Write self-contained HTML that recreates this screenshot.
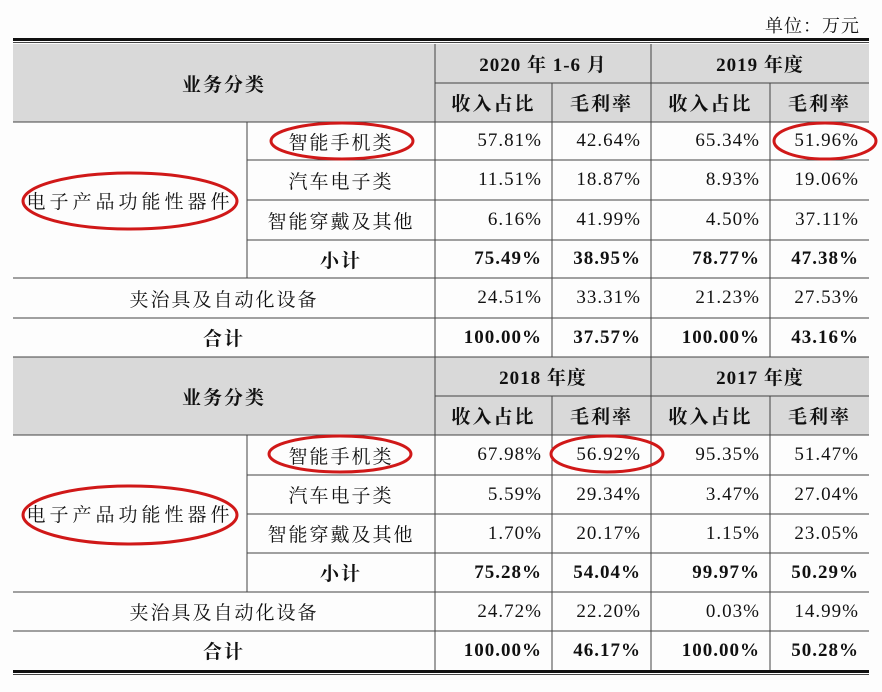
<!DOCTYPE html>
<html><head><meta charset="utf-8"><style>
body{margin:0;width:882px;height:692px;background:#fdfdfd;position:relative;overflow:hidden;font-family:"Liberation Serif","Noto Serif CJK SC",serif;color:#111}
.c{position:absolute;display:flex;align-items:center;justify-content:center;font-size:19px;letter-spacing:2px;box-sizing:border-box;white-space:nowrap}
.r{justify-content:flex-end;padding-right:10px;letter-spacing:1px}
.b{font-weight:bold}
.w{letter-spacing:4px}
.g{position:absolute;background:#d9d9d9}
.h{position:absolute;height:1px;background:#444}
</style></head><body>
<div style="position:absolute;right:22px;top:12px;font-size:18px;letter-spacing:1px">单位：万元</div>
<div class="g" style="left:13px;top:44px;width:856px;height:78px"></div>
<div class="g" style="left:13px;top:357px;width:856px;height:78px"></div>
<div class="h" style="left:13px;top:38px;width:856px;height:3px;background:#111"></div>
<div class="h" style="left:13px;top:42px;width:856px"></div>
<div class="h" style="left:13px;top:670px;width:856px;height:3px;background:#111"></div>
<div class="h" style="left:13px;top:674px;width:856px"></div>
<svg style="position:absolute;left:0;top:0" width="882" height="692">
<g stroke="#444" stroke-width="1" fill="none">
<path d="M435 83H869M13 122H869M247 160H869M247 200H869M247 240H869M13 278H869M13 318H869M13 357H869"/>
<path d="M435 396H869M13 435H869M247 475H869M247 514H869M247 553H869M13 592H869M13 631H869"/>
<path d="M247 122V278M435 44V357M552 83V357M651 44V357M770 83V357"/>
<path d="M247 435V592M435 357V670M552 396V670M651 357V670M770 396V670"/>
</g>
<g stroke="#d01818" stroke-width="3" fill="none">
<ellipse cx="342" cy="141" rx="71" ry="18"/>
<ellipse cx="130" cy="201" rx="107" ry="28"/>
<ellipse cx="825" cy="141" rx="51" ry="18"/>
<ellipse cx="340" cy="454" rx="71" ry="18"/>
<ellipse cx="130" cy="515" rx="107" ry="29"/>
<ellipse cx="607" cy="454" rx="56" ry="18"/>
</g></svg>
<div class="c b" style="left:13px;top:44px;width:422px;height:78px">业务分类</div>
<div class="c b" style="left:435px;top:44px;width:216px;height:39px;letter-spacing:1px">2020 年 1-6 月</div>
<div class="c b" style="left:651px;top:44px;width:218px;height:39px;letter-spacing:1px">2019 年度</div>
<div class="c b" style="left:435px;top:83px;width:117px;height:39px">收入占比</div>
<div class="c b" style="left:552px;top:83px;width:99px;height:39px">毛利率</div>
<div class="c b" style="left:651px;top:83px;width:119px;height:39px">收入占比</div>
<div class="c b" style="left:770px;top:83px;width:99px;height:39px">毛利率</div>
<div class="c w" style="left:13px;top:122px;width:234px;height:156px">电子产品功能性器件</div>
<div class="c" style="left:247px;top:122px;width:188px;height:38px">智能手机类</div>
<div class="c" style="left:247px;top:160px;width:188px;height:40px">汽车电子类</div>
<div class="c" style="left:247px;top:200px;width:188px;height:40px">智能穿戴及其他</div>
<div class="c b" style="left:247px;top:240px;width:188px;height:38px">小计</div>
<div class="c" style="left:13px;top:278px;width:422px;height:40px">夹治具及自动化设备</div>
<div class="c b" style="left:13px;top:318px;width:422px;height:39px">合计</div>
<div class="c r" style="left:435px;top:122px;width:117px;height:38px">57.81%</div><div class="c r" style="left:552px;top:122px;width:99px;height:38px">42.64%</div><div class="c r" style="left:651px;top:122px;width:119px;height:38px">65.34%</div><div class="c r" style="left:770px;top:122px;width:99px;height:38px">51.96%</div>
<div class="c r" style="left:435px;top:160px;width:117px;height:40px">11.51%</div><div class="c r" style="left:552px;top:160px;width:99px;height:40px">18.87%</div><div class="c r" style="left:651px;top:160px;width:119px;height:40px">8.93%</div><div class="c r" style="left:770px;top:160px;width:99px;height:40px">19.06%</div>
<div class="c r" style="left:435px;top:200px;width:117px;height:40px">6.16%</div><div class="c r" style="left:552px;top:200px;width:99px;height:40px">41.99%</div><div class="c r" style="left:651px;top:200px;width:119px;height:40px">4.50%</div><div class="c r" style="left:770px;top:200px;width:99px;height:40px">37.11%</div>
<div class="c r b" style="left:435px;top:240px;width:117px;height:38px">75.49%</div><div class="c r b" style="left:552px;top:240px;width:99px;height:38px">38.95%</div><div class="c r b" style="left:651px;top:240px;width:119px;height:38px">78.77%</div><div class="c r b" style="left:770px;top:240px;width:99px;height:38px">47.38%</div>
<div class="c r" style="left:435px;top:278px;width:117px;height:40px">24.51%</div><div class="c r" style="left:552px;top:278px;width:99px;height:40px">33.31%</div><div class="c r" style="left:651px;top:278px;width:119px;height:40px">21.23%</div><div class="c r" style="left:770px;top:278px;width:99px;height:40px">27.53%</div>
<div class="c r b" style="left:435px;top:318px;width:117px;height:39px">100.00%</div><div class="c r b" style="left:552px;top:318px;width:99px;height:39px">37.57%</div><div class="c r b" style="left:651px;top:318px;width:119px;height:39px">100.00%</div><div class="c r b" style="left:770px;top:318px;width:99px;height:39px">43.16%</div>

<div class="c b" style="left:13px;top:357px;width:422px;height:78px">业务分类</div>
<div class="c b" style="left:435px;top:357px;width:216px;height:39px;letter-spacing:1px">2018 年度</div>
<div class="c b" style="left:651px;top:357px;width:218px;height:39px;letter-spacing:1px">2017 年度</div>
<div class="c b" style="left:435px;top:396px;width:117px;height:39px">收入占比</div>
<div class="c b" style="left:552px;top:396px;width:99px;height:39px">毛利率</div>
<div class="c b" style="left:651px;top:396px;width:119px;height:39px">收入占比</div>
<div class="c b" style="left:770px;top:396px;width:99px;height:39px">毛利率</div>
<div class="c w" style="left:13px;top:435px;width:234px;height:157px">电子产品功能性器件</div>
<div class="c" style="left:247px;top:435px;width:188px;height:40px">智能手机类</div>
<div class="c" style="left:247px;top:475px;width:188px;height:39px">汽车电子类</div>
<div class="c" style="left:247px;top:514px;width:188px;height:39px">智能穿戴及其他</div>
<div class="c b" style="left:247px;top:553px;width:188px;height:39px">小计</div>
<div class="c" style="left:13px;top:592px;width:422px;height:39px">夹治具及自动化设备</div>
<div class="c b" style="left:13px;top:631px;width:422px;height:39px">合计</div>
<div class="c r" style="left:435px;top:435px;width:117px;height:40px">67.98%</div><div class="c r" style="left:552px;top:435px;width:99px;height:40px">56.92%</div><div class="c r" style="left:651px;top:435px;width:119px;height:40px">95.35%</div><div class="c r" style="left:770px;top:435px;width:99px;height:40px">51.47%</div>
<div class="c r" style="left:435px;top:475px;width:117px;height:39px">5.59%</div><div class="c r" style="left:552px;top:475px;width:99px;height:39px">29.34%</div><div class="c r" style="left:651px;top:475px;width:119px;height:39px">3.47%</div><div class="c r" style="left:770px;top:475px;width:99px;height:39px">27.04%</div>
<div class="c r" style="left:435px;top:514px;width:117px;height:39px">1.70%</div><div class="c r" style="left:552px;top:514px;width:99px;height:39px">20.17%</div><div class="c r" style="left:651px;top:514px;width:119px;height:39px">1.15%</div><div class="c r" style="left:770px;top:514px;width:99px;height:39px">23.05%</div>
<div class="c r b" style="left:435px;top:553px;width:117px;height:39px">75.28%</div><div class="c r b" style="left:552px;top:553px;width:99px;height:39px">54.04%</div><div class="c r b" style="left:651px;top:553px;width:119px;height:39px">99.97%</div><div class="c r b" style="left:770px;top:553px;width:99px;height:39px">50.29%</div>
<div class="c r" style="left:435px;top:592px;width:117px;height:39px">24.72%</div><div class="c r" style="left:552px;top:592px;width:99px;height:39px">22.20%</div><div class="c r" style="left:651px;top:592px;width:119px;height:39px">0.03%</div><div class="c r" style="left:770px;top:592px;width:99px;height:39px">14.99%</div>
<div class="c r b" style="left:435px;top:631px;width:117px;height:39px">100.00%</div><div class="c r b" style="left:552px;top:631px;width:99px;height:39px">46.17%</div><div class="c r b" style="left:651px;top:631px;width:119px;height:39px">100.00%</div><div class="c r b" style="left:770px;top:631px;width:99px;height:39px">50.28%</div>
</body></html>
